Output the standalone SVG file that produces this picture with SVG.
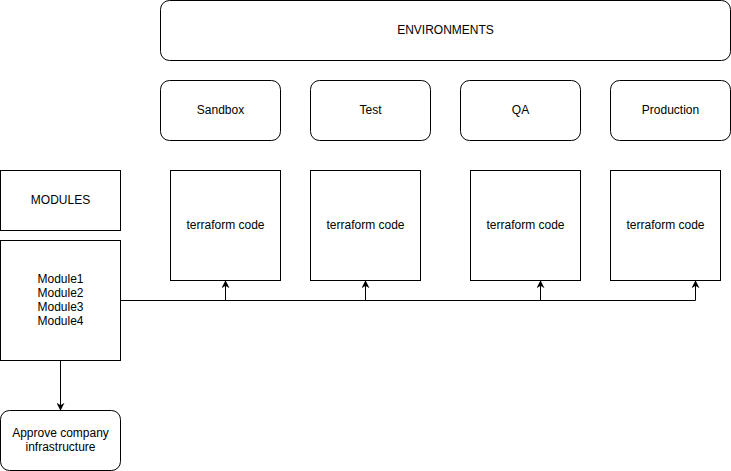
<svg xmlns="http://www.w3.org/2000/svg" width="731" height="471" viewBox="0 0 731 471">
<defs>
<style>
.box{fill:#fff;stroke:#000;stroke-width:1}
.t{font-family:"Liberation Sans",Arial,Helvetica,sans-serif;font-size:12px;fill:#000;text-anchor:middle;dominant-baseline:central}
.c{fill:none;stroke:#000;stroke-width:1}
</style>
<marker id="arr" viewBox="0 0 10 10" refX="9" refY="5" markerWidth="8" markerHeight="8" markerUnits="userSpaceOnUse" orient="auto">
<path d="M0,0 L10,5 L0,10 L3,5 Z" fill="#000"/>
</marker>
</defs>
<rect width="731" height="471" fill="#fff"/>
<g id="connectors">
<path class="c" d="M120.5,300.5 H695.5"/>
<path class="c" d="M225.5,300.5 V281" marker-end="url(#arr)"/>
<path class="c" d="M365.5,300.5 V281" marker-end="url(#arr)"/>
<path class="c" d="M540.5,300.5 V281" marker-end="url(#arr)"/>
<path class="c" d="M695.5,300.5 V281" marker-end="url(#arr)"/>
<path class="c" d="M60.5,360.5 V410" marker-end="url(#arr)"/>
</g>
<g id="environments"><rect class="box" x="160.5" y="0.5" width="570" height="60" rx="9"/><text class="t" x="445.5" y="29.5">ENVIRONMENTS</text></g>
<g id="sandbox"><rect class="box" x="160.5" y="80.5" width="120" height="60" rx="9"/><text class="t" x="220.5" y="109.5">Sandbox</text></g>
<g id="test"><rect class="box" x="310.5" y="80.5" width="120" height="60" rx="9"/><text class="t" x="370.5" y="109.5">Test</text></g>
<g id="qa"><rect class="box" x="460.5" y="80.5" width="120" height="60" rx="9"/><text class="t" x="520.5" y="109.5">QA</text></g>
<g id="production"><rect class="box" x="610.5" y="80.5" width="120" height="60" rx="9"/><text class="t" x="670.5" y="109.5">Production</text></g>
<g id="modules-title"><rect class="box" x="0.5" y="170.5" width="120" height="60"/><text class="t" x="60.5" y="199.5">MODULES</text></g>
<g id="modules"><rect class="box" x="0.5" y="240.5" width="120" height="120"/>
<text class="t" x="60.5" y="278.5">Module1</text>
<text class="t" x="60.5" y="292.5">Module2</text>
<text class="t" x="60.5" y="306.5">Module3</text>
<text class="t" x="60.5" y="320.5">Module4</text></g>
<g id="tf-sandbox"><rect class="box" x="170.5" y="170.5" width="110" height="110"/><text class="t" x="225.5" y="224.5">terraform code</text></g>
<g id="tf-test"><rect class="box" x="310.5" y="170.5" width="110" height="110"/><text class="t" x="365.5" y="224.5">terraform code</text></g>
<g id="tf-qa"><rect class="box" x="470.5" y="170.5" width="110" height="110"/><text class="t" x="525.5" y="224.5">terraform code</text></g>
<g id="tf-production"><rect class="box" x="610.5" y="170.5" width="110" height="110"/><text class="t" x="665.5" y="224.5">terraform code</text></g>
<g id="approve"><rect class="box" x="0.5" y="410.5" width="120" height="60" rx="9"/>
<text class="t" x="60.5" y="432.5">Approve company</text>
<text class="t" x="60.5" y="446.5">infrastructure</text></g>
</svg>
